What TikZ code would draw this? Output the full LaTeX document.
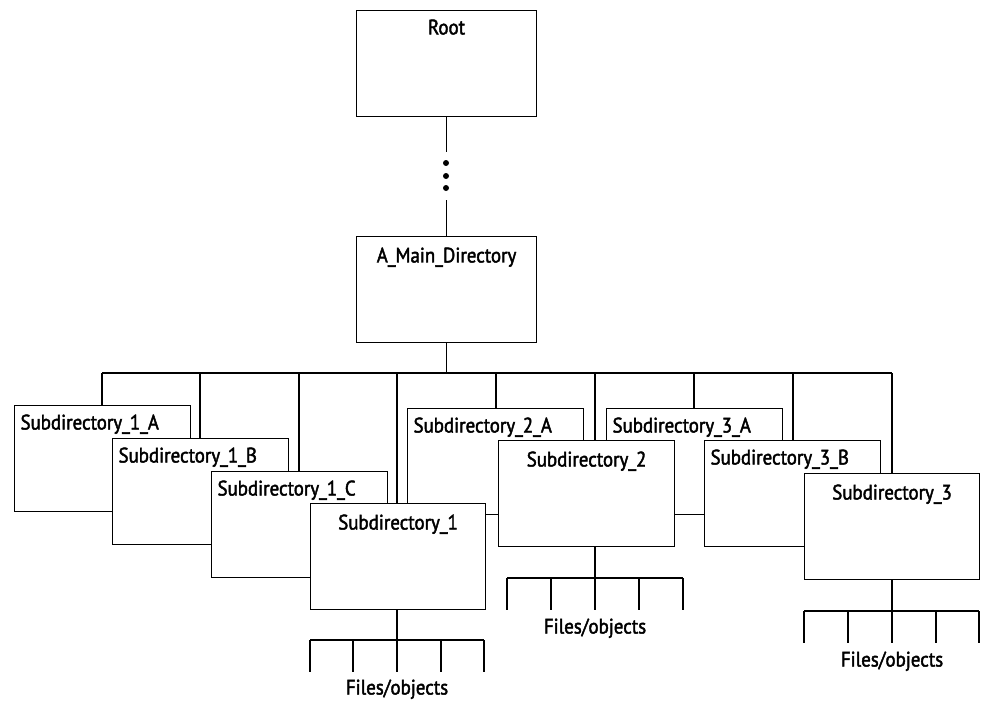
\documentclass[tikz,border=0pt]{standalone}
\usepackage{fontspec}
\setmainfont{PT Sans}
\newfontfamily\lblfont[FakeBold=2,FakeStretch=0.9]{PT Sans}
\begin{document}
\begin{tikzpicture}[x=1pt,y=-1pt,
  line width=1.1pt,
  dirbox/.style={draw, fill=white, inner sep=0pt, anchor=north west,
                 minimum width=176pt, minimum height=106pt},
  bigbox/.style={dirbox, minimum width=180pt, minimum height=106pt},
  ttl/.style={inner sep=0pt, font=\lblfont\fontsize{21}{24}\selectfont},
  wire/.style={draw, line width=1.1pt},
  dot/.style={circle, fill=black, inner sep=0pt, minimum size=6pt}
]
\useasboundingbox (0,0) rectangle (981,704);

% --- top of the hierarchy ---
\node[bigbox] (root) at (356,10) {};
\node[ttl, anchor=north] (troot) at ([yshift=-9pt]root.north) {Root};

\node[bigbox] (main) at (356,236) {};
\node[ttl, anchor=north] (tmain) at ([yshift=-11pt]main.north) {A\_Main\_Directory};

\coordinate (g1) at (446,152);
\coordinate (g2) at (446,200);
\node[dot] (d1) at (446,163) {};
\node[dot] (d2) at (446,176) {};
\node[dot] (d3) at (446,188) {};
\draw[wire] (root.south) -- (root.south |- g1);
\draw[wire] (main.north |- g2) -- (main.north);

% --- bus below the main directory ---
\coordinate (busL) at (102,373);
\coordinate (busR) at (892,373);
\draw[wire] (busL) -- (busR);
\draw[wire] (main.south) -- (main.south |- busL);

\foreach \n/\x in {b1/102,b2/200,b3/299,b4/397,b5/496,b6/595,b7/694,b8/793,b9/892}
  \coordinate (\n) at (\x,373);

% drops from the bus
\foreach \n/\y in {b1/405,b2/438,b3/471,b4/503,b5/408,b6/440,b7/408,b8/440,b9/473}
  \draw[wire] (\n) -- ++(0,\y-373);

% --- subdirectory boxes, back to front ---
\node[dirbox] (s1a) at (14,405) {};
\node[ttl, anchor=north west] (ts1a) at ([xshift=6pt,yshift=-9pt]s1a.north west) {Subdirectory\_1\_A};

\node[dirbox] (s1b) at (112,438) {};
\node[ttl, anchor=north west] (ts1b) at ([xshift=6pt,yshift=-9pt]s1b.north west) {Subdirectory\_1\_B};

\node[dirbox] (s1c) at (211,471) {};
\node[ttl, anchor=north west] (ts1c) at ([xshift=6pt,yshift=-9pt]s1c.north west) {Subdirectory\_1\_C};

\node[dirbox] (s2a) at (407,408) {};
\node[ttl, anchor=north west] (ts2a) at ([xshift=6pt,yshift=-9pt]s2a.north west) {Subdirectory\_2\_A};

\node[dirbox] (s3a) at (606,408) {};
\node[ttl, anchor=north west] (ts3a) at ([xshift=6pt,yshift=-9pt]s3a.north west) {Subdirectory\_3\_A};

\node[dirbox, minimum width=175pt] (s1) at (310,503) {};
\node[ttl, anchor=north] (ts1) at ([yshift=-11pt]s1.north) {Subdirectory\_1};

\node[dirbox] (s2) at (498,440) {};
\node[ttl, anchor=north] (ts2) at ([yshift=-11pt]s2.north) {Subdirectory\_2};

\node[dirbox] (s3b) at (704,440) {};
\node[ttl, anchor=north west] (ts3b) at ([xshift=6pt,yshift=-9pt]s3b.north west) {Subdirectory\_3\_B};

\node[dirbox, minimum width=175pt] (s3) at (804,473) {};
\node[ttl, anchor=north] (ts3) at ([yshift=-11pt]s3.north) {Subdirectory\_3};

% --- file fans below the leaf directories ---
% Subdirectory_1
\coordinate (f1) at (397,640);
\draw[wire] (f1 |- s1.south) -- (f1);
\draw[wire] (310,640) -- (484,640);
\foreach \x in {310,353,397,441,484} \draw[wire] (\x,640) -- (\x,672);
\node[ttl, anchor=north] (fo1) at (397,679) {Files/objects};

% Subdirectory_2
\coordinate (f2) at (595,578);
\draw[wire] (f2 |- s2.south) -- (f2);
\draw[wire] (507,578) -- (683,578);
\foreach \x in {507,551,595,639,683} \draw[wire] (\x,578) -- (\x,610);
\node[ttl, anchor=north] (fo2) at (595,618) {Files/objects};

% Subdirectory_3
\coordinate (f3) at (892,611);
\draw[wire] (f3 |- s3.south) -- (f3);
\draw[wire] (804,611) -- (979,611);
\foreach \x in {804,848,892,936,979} \draw[wire] (\x,611) -- (\x,643);
\node[ttl, anchor=north] (fo3) at (892,651) {Files/objects};
\end{tikzpicture}
\end{document}
